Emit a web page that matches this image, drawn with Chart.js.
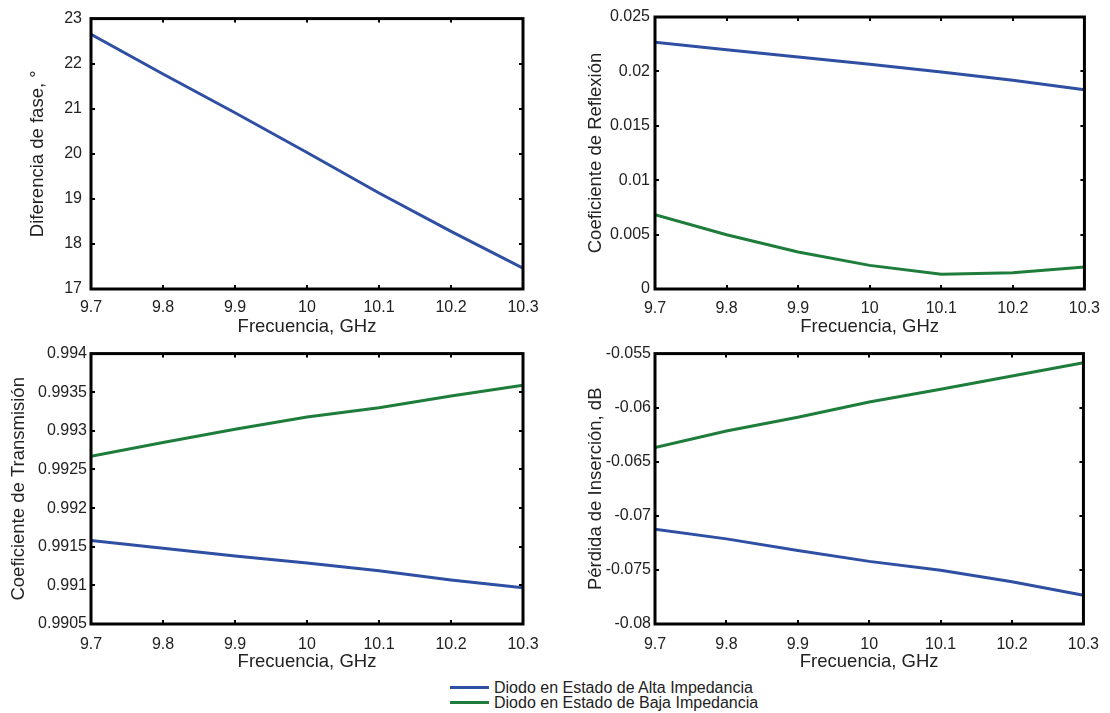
<!DOCTYPE html>
<html>
<head>
<meta charset="utf-8">
<script src="https://cdn.jsdelivr.net/npm/chart.js@4.4.0/dist/chart.umd.min.js"></script>
<style>
  body { margin: 0; background: #fff; width: 1110px; height: 713px; position: relative; overflow: hidden; }
  canvas { position: absolute; }
  #legend { position: absolute; left: 450px; top: 680px; font-family: "Liberation Sans", Arial, sans-serif; font-size: 16px; color: #222; line-height: 15px; }
  #legend div { white-space: nowrap; }
  #legend span.sw { display: inline-block; width: 39px; height: 3px; vertical-align: middle; margin-right: 5px; position: relative; top: -1px; }
</style>
</head>
<body>
<canvas id="c1" width="560" height="340" style="left:0;top:0"></canvas>
<canvas id="c2" width="550" height="340" style="left:560px;top:0"></canvas>
<canvas id="c3" width="560" height="335" style="left:0;top:340px"></canvas>
<canvas id="c4" width="550" height="335" style="left:560px;top:340px"></canvas>
<div id="legend">
  <div><span class="sw" style="background:#2f4fa3"></span>Diodo en Estado de Alta Impedancia</div>
  <div><span class="sw" style="background:#1f7d3c"></span>Diodo en Estado de Baja Impedancia</div>
</div>
<script>
const freq = [9.7, 9.8, 9.9, 10.0, 10.1, 10.2, 10.3];
const freqTicks = [9.7, 9.8, 9.9, 10, 10.1, 10.2, 10.3];

// diferencia de fase (grados)
const phaseDiff = [22.65, 21.77, 20.91, 20.03, 19.13, 18.28, 17.46];
const phaseTicks = [17, 18, 19, 20, 21, 22, 23];

// coeficiente de reflexion
const reflAlta = [0.02267, 0.0220, 0.02132, 0.02065, 0.01994, 0.01918, 0.01832];
const reflBaja = [0.00683, 0.00499, 0.0034, 0.00217, 0.00135, 0.0015, 0.00202];
const reflTicks = [0, 0.005, 0.01, 0.015, 0.02, 0.025];

// coeficiente de transmision
const transAlta = [0.99158, 0.99148, 0.99138, 0.99129, 0.99119, 0.99107, 0.99097];
const transBaja = [0.99267, 0.99285, 0.99302, 0.99318, 0.99330, 0.99345, 0.99359];
const transTicks = [0.9905, 0.991, 0.9915, 0.992, 0.9925, 0.993, 0.9935, 0.994];

// perdida de insercion (dB)
const lossAlta = [-0.07125, -0.07213, -0.0732, -0.07421, -0.07503, -0.0761, -0.07735];
const lossBaja = [-0.06369, -0.06216, -0.06088, -0.05948, -0.05829, -0.05707, -0.05585];
const lossTicks = [-0.08, -0.075, -0.07, -0.065, -0.06, -0.055];

const BLUE = "#2f4fa3";
const GREEN = "#1f7d3c";
const FONT = "'Liberation Sans', Arial, sans-serif";
const TEXT = "#222";

Chart.defaults.font.family = FONT;
Chart.defaults.color = TEXT;

function pts(ys) {
    return freq.map((x, i) => ({ x: x, y: ys[i] }));
}

function fmt(v) {
    return String(parseFloat(Number(v).toFixed(6)));
}

// black box with inward ticks, MATLAB style
const boxPlugin = {
    id: "box",
    afterDatasetsDraw(chart) {
        const { ctx, chartArea: a, scales } = chart;
        ctx.save();
        ctx.strokeStyle = "#000";
        ctx.lineWidth = 2;
        const len = 4;
        scales.x.ticks.forEach(t => {
            const px = Math.round(scales.x.getPixelForValue(t.value));
            ctx.beginPath();
            ctx.moveTo(px, a.bottom); ctx.lineTo(px, a.bottom - len);
            ctx.moveTo(px, a.top); ctx.lineTo(px, a.top + len);
            ctx.stroke();
        });
        scales.y.ticks.forEach(t => {
            const py = Math.round(scales.y.getPixelForValue(t.value));
            ctx.beginPath();
            ctx.moveTo(a.left, py); ctx.lineTo(a.left + len, py);
            ctx.moveTo(a.right, py); ctx.lineTo(a.right - len, py);
            ctx.stroke();
        });
        ctx.lineWidth = 3;
        ctx.strokeRect(a.left, a.top, a.right - a.left, a.bottom - a.top);
        ctx.restore();
    }
};

function makeChart(id, cfg) {
    const datasets = cfg.series.map(s => ({
        data: pts(s.data),
        borderColor: s.color,
        borderWidth: 3,
        pointRadius: 0,
        fill: false,
        tension: 0
    }));
    return new Chart(document.getElementById(id), {
        type: "line",
        data: { datasets: datasets },
        options: {
            responsive: false,
            animation: false,
            devicePixelRatio: 1,
            layout: { padding: cfg.padding },
            plugins: { legend: { display: false }, tooltip: { enabled: false } },
            scales: {
                x: {
                    type: "linear",
                    min: 9.7,
                    max: 10.3,
                    grid: { display: false, drawTicks: false },
                    border: { display: false },
                    afterBuildTicks: s => { s.ticks = freqTicks.map(v => ({ value: v })); },
                    afterFit: s => { s.height = 51; },
                    ticks: {
                        autoSkip: false,
                        maxRotation: 0,
                        padding: cfg.xPad,
                        color: TEXT,
                        font: { size: 16 },
                        callback: v => fmt(v)
                    },
                    title: {
                        display: true,
                        text: "Frecuencia, GHz",
                        color: TEXT,
                        font: { size: 18.5 },
                        padding: { top: 0, bottom: 2 }
                    }
                },
                y: {
                    min: cfg.yTicks[0],
                    max: cfg.yTicks[cfg.yTicks.length - 1],
                    grid: { display: false, drawTicks: false },
                    border: { display: false },
                    afterBuildTicks: s => { s.ticks = cfg.yTicks.map(v => ({ value: v })); },
                    afterFit: s => { s.width = cfg.yWidth; },
                    ticks: {
                        autoSkip: false,
                        padding: cfg.yPad,
                        color: TEXT,
                        font: { size: 16 },
                        callback: v => fmt(v)
                    },
                    title: {
                        display: true,
                        text: cfg.yTitle,
                        color: TEXT,
                        font: { size: 18.5 },
                        padding: { top: cfg.titlePad, bottom: 0 }
                    }
                }
            }
        },
        plugins: [boxPlugin]
    });
}

makeChart("c1", {
    series: [{ data: phaseDiff, color: BLUE }],
    yTicks: phaseTicks,
    yTitle: "Diferencia de fase, °",
    yWidth: 91,
    yPad: 9,
    xPad: 9,
    titlePad: 27,
    padding: { left: 0, top: 17, right: 37, bottom: 0 }
});

makeChart("c2", {
    series: [{ data: reflAlta, color: BLUE }, { data: reflBaja, color: GREEN }],
    yTicks: reflTicks,
    yTitle: "Coeficiente de Reflexión",
    yWidth: 95,
    yPad: 5,
    xPad: 10,
    titlePad: 25,
    padding: { left: 0, top: 17, right: 20, bottom: 0 }
});

makeChart("c3", {
    series: [{ data: transAlta, color: BLUE }, { data: transBaja, color: GREEN }],
    yTicks: transTicks,
    yTitle: "Coeficiente de Transmisión",
    yWidth: 91,
    yPad: 4,
    xPad: 11,
    titlePad: 8,
    padding: { left: 0, top: 13, right: 37, bottom: 0 }
});

makeChart("c4", {
    series: [{ data: lossAlta, color: BLUE }, { data: lossBaja, color: GREEN }],
    yTicks: lossTicks,
    yTitle: "Pérdida de Inserción, dB",
    yWidth: 95,
    yPad: 4,
    xPad: 11,
    titlePad: 25,
    padding: { left: 0, top: 13, right: 20, bottom: 0 }
});
</script>
</body>
</html>
